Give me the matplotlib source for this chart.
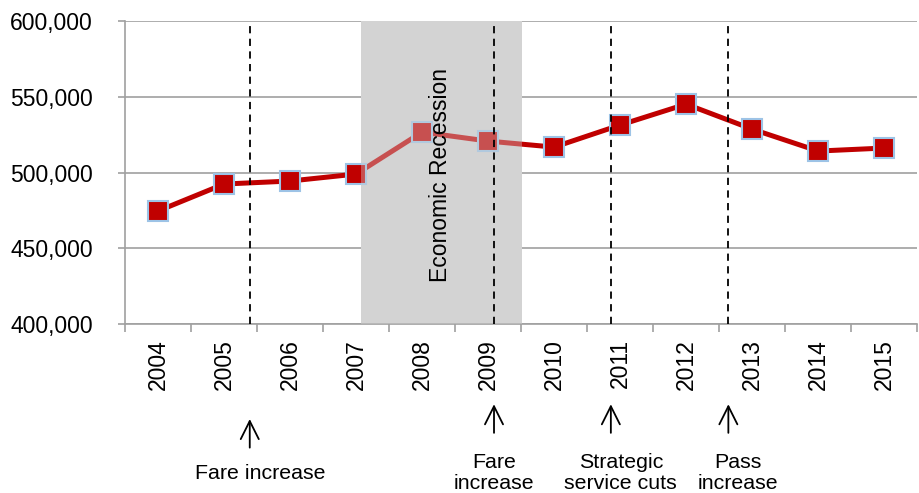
import matplotlib
matplotlib.use("Agg")
import matplotlib.pyplot as plt
from matplotlib.ticker import FuncFormatter, FixedLocator
import matplotlib.transforms as mtransforms

plt.rcParams['font.family'] = ['Liberation Sans', 'DejaVu Sans']

years = ['2004', '2005', '2006', '2007', '2008', '2009', '2010', '2011', '2012', '2013', '2014', '2015']
riders = [474600, 492400, 494400, 499000, 526700, 520800, 516800, 531400, 545200, 528700, 514200, 516200]

# events: x position (category index) and label
event_x = [1.39, 5.09, 6.86, 8.64]
event_labels = ['Fare increase', 'Fare\nincrease', 'Strategic\nservice cuts', 'Pass\nincrease']
recession = (3.08, 5.52)

fig = plt.figure(figsize=(9.19, 4.93), dpi=100)
ax = fig.add_axes([0.136, 0.343, 0.862, 0.614])

x = list(range(len(years)))
ax.plot(x, riders, color='#c00000', linewidth=3.6, marker='s', markersize=14,
        markerfacecolor='#c00000', markeredgecolor='#9dc3e6', markeredgewidth=1.5, zorder=3)

# recession shading: solid behind, light veil over the line
ax.axvspan(recession[0], recession[1], color='#d3d3d3', lw=0, zorder=1)
ax.axvspan(recession[0], recession[1], color='#d3d3d3', alpha=0.38, lw=0, zorder=4)
ax.text((recession[0] + recession[1]) / 2 - 0.02, 498500, 'Economic Recession', rotation=90,
        ha='center', va='center', fontsize=16.5, zorder=5)

for ex in event_x:
    ax.axvline(ex, color='black', linestyle=(0, (4, 3)), linewidth=1.3, zorder=5)

ax.set_xlim(-0.5, len(years) - 0.5)
ax.set_ylim(400000, 600000)
ax.set_yticks([400000, 450000, 500000, 550000, 600000])
ax.yaxis.set_major_formatter(FuncFormatter(lambda v, p: f'{int(v):,}'))
ax.grid(axis='y', color='#a0a0a0', linewidth=1.2, zorder=0)
ax.set_axisbelow(True)

ax.set_xticks(x)
ax.set_xticklabels(years, rotation=90, fontsize=16.5)
ax.tick_params(axis='x', which='major', length=0, pad=11)
ax.xaxis.set_minor_locator(FixedLocator([i - 0.5 for i in range(len(years) + 1)]))
ax.tick_params(axis='x', which='minor', length=6, color='#a0a0a0', width=1.2)
ax.tick_params(axis='y', length=5, color='#a0a0a0', width=1.2, labelsize=16.5, pad=18)

for s in ['top', 'right']:
    ax.spines[s].set_visible(False)
for s in ['left', 'bottom']:
    ax.spines[s].set_color('#a0a0a0')
    ax.spines[s].set_linewidth(1.2)

# annotations under the axis
trans = mtransforms.blended_transform_factory(ax.transData, fig.transFigure)
arrow_y = [(0.092, 0.150), (0.122, 0.180), (0.122, 0.180), (0.122, 0.180)]
text_dx = [0.16, 0.0, 0.15, 0.15]
for ex, lab, (y0, y1), dx in zip(event_x, event_labels, arrow_y, text_dx):
    ax.annotate('', xy=(ex, y1), xytext=(ex, y0), xycoords=trans, textcoords=trans,
                arrowprops=dict(arrowstyle='->,head_length=1.3,head_width=0.65', color='black',
                                lw=1.3, shrinkA=0, shrinkB=0),
                annotation_clip=False)
    fig.text(ex + dx, 0.04, lab, transform=trans, ha='center', va='center', fontsize=15.4,
             linespacing=1.12)

fig.savefig('out.png', dpi=100)
